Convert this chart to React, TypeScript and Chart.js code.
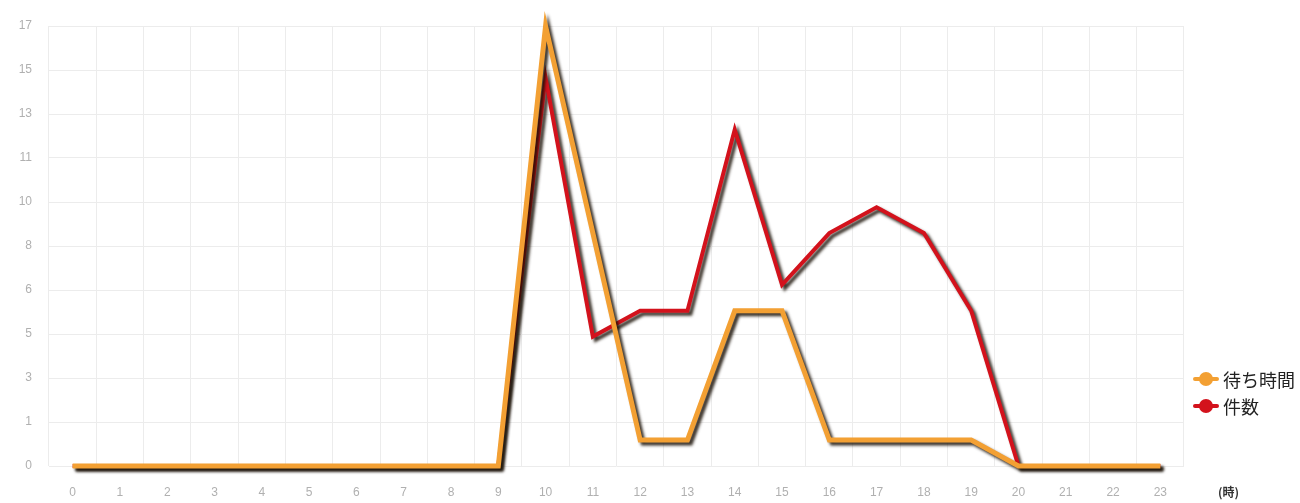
import React, { useEffect, useRef } from "react";
import { Chart, registerables } from "chart.js";

Chart.register(...registerables);

const hours = ["0","1","2","3","4","5","6","7","8","9","10","11","12","13","14","15","16","17","18","19","20","21","22","23"];
const waitTime = [0,0,0,0,0,0,0,0,0,0,17,9,1,1,6,6,1,1,1,1,0,0,0,0];
const counts = [0,0,0,0,0,0,0,0,0,0,15,5,6,6,13,7,9,10,9,6,0,0,0,0];
const yTickLabels = ["0","1","3","5","6","8","10","11","13","15","17"];
const yMax = 17;
const seriesNames = ["待ち時間", "件数"];
const seriesColors = ["#f3a033", "#d3121c"];
const xAxisUnit = "(時)";

const shadowPlugin = {
  id: "lineShadow",
  beforeDatasetDraw(chart: any) {
    const ctx = chart.ctx;
    ctx.save();
    ctx.shadowColor = "rgba(25,15,5,0.85)";
    ctx.shadowOffsetX = 3;
    ctx.shadowOffsetY = 3;
    ctx.shadowBlur = 3;
  },
  afterDatasetDraw(chart: any) {
    chart.ctx.restore();
  },
};

const unitPlugin = {
  id: "unitLabel",
  afterDraw(chart: any) {
    const ctx = chart.ctx;
    ctx.save();
    ctx.font = "bold 12px 'Noto Sans CJK JP', sans-serif";
    ctx.fillStyle = "#333";
    ctx.textAlign = "left";
    ctx.textBaseline = "middle";
    ctx.fillText(xAxisUnit, chart.chartArea.right + 34, 492);
    ctx.restore();
  },
};

export default function App() {
  const ref = useRef<HTMLCanvasElement | null>(null);
  useEffect(() => {
    document.body.style.margin = "0";
    const canvas = ref.current!;
    const chart = new Chart(canvas, {
      type: "line",
      data: {
        labels: hours,
        datasets: [
          {
            label: seriesNames[0],
            data: waitTime,
            borderColor: seriesColors[0],
            borderWidth: 5,
            pointRadius: 0,
            tension: 0,
            clip: false as any,
          },
          {
            label: seriesNames[1],
            data: counts,
            borderColor: seriesColors[1],
            borderWidth: 4,
            pointRadius: 0,
            tension: 0,
            clip: false as any,
          },
        ],
      },
      options: {
        animation: false,
        responsive: false,
        layout: { padding: { top: 26, right: 116, left: 0, bottom: 0 } },
        plugins: { legend: { display: false }, tooltip: { enabled: false } },
        scales: {
          x: {
            type: "category",
            offset: true,
            grid: { offset: true, color: "#ececec", drawTicks: false },
            border: { display: false },
            ticks: {
              color: "#b0b0b0",
              font: { size: 12, family: "'Liberation Sans', Arial, sans-serif" },
              padding: 19,
              maxRotation: 0,
              autoSkip: false,
            },
            afterFit: (s: any) => { s.height = 37; },
          },
          y: {
            min: 0,
            max: yMax,
            grid: { color: "#ececec", drawTicks: false },
            border: { display: false },
            afterBuildTicks: (s: any) => {
              s.ticks = yTickLabels.map((_, i) => ({ value: (i * yMax) / (yTickLabels.length - 1) }));
            },
            ticks: {
              color: "#b0b0b0",
              font: { size: 12, family: "'Liberation Sans', Arial, sans-serif" },
              padding: 17,
              callback: (_v: any, i: number) => yTickLabels[i],
            },
            afterFit: (s: any) => { s.width = 49; },
          },
        },
      },
      plugins: [shadowPlugin, unitPlugin],
    });
    return () => chart.destroy();
  }, []);

  const marker = (color: string) => (
    <span style={{ position: "relative", display: "inline-block", width: 26, height: 14, marginRight: 4, verticalAlign: "middle" }}>
      <span style={{ position: "absolute", left: 0, top: 5, width: 26, height: 4, background: color, borderRadius: 2 }} />
      <span style={{ position: "absolute", left: 6, top: 0, width: 14, height: 14, background: color, borderRadius: "50%" }} />
    </span>
  );

  return (
    <div style={{ position: "relative", width: 1300, height: 503 }}>
      <canvas ref={ref} width={1300} height={503} style={{ width: 1300, height: 503, display: "block" }} />
      <div style={{ position: "absolute", left: 1193, top: 363, fontFamily: "'Noto Sans CJK JP', sans-serif", fontSize: 18, color: "#222" }}>
        {seriesNames.map((n, i) => (
          <div key={n} style={{ height: 27, lineHeight: "27px", whiteSpace: "nowrap" }}>
            {marker(seriesColors[i])}
            <span style={{ verticalAlign: "middle" }}>{n}</span>
          </div>
        ))}
      </div>
    </div>
  );
}
